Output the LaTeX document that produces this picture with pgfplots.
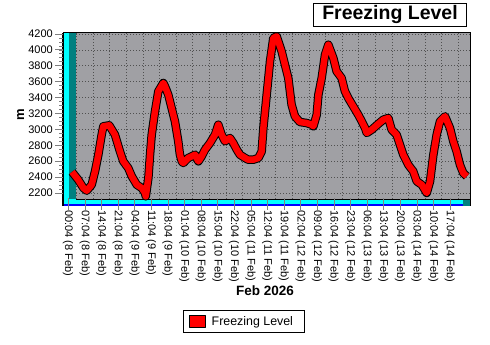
\documentclass[border=0pt]{standalone}
\usepackage{fontspec}
\setmainfont{Liberation Sans}
\usepackage{pgfplots}
\usepackage{pgfplotstable}
\pgfplotsset{compat=1.18}
\definecolor{wallgray}{RGB}{160,160,164}
\definecolor{gridgray}{RGB}{80,80,80}
\definecolor{tealw}{RGB}{0,128,128}
\definecolor{cyanw}{RGB}{0,255,255}
\definecolor{bluew}{RGB}{0,0,255}
\definecolor{tickgray}{RGB}{128,128,128}

\pgfplotstableread{
h v
1.7 2465
4.3 2367
6.5 2263
7.9 2229
10.0 2304
11.4 2473
12.8 2682
14.2 2933
14.9 3039
17.4 3051
19.8 2933
21.9 2724
23.3 2599
25.4 2514
26.9 2410
29.0 2304
31.1 2263
32.5 2200
32.8 2158
33.9 2388
34.6 2682
35.3 2933
36.7 3228
38.1 3479
40.2 3584
40.9 3542
42.3 3436
43.7 3269
45.1 3102
46.5 2850
47.2 2682
48.0 2598
48.6 2577
50.7 2640
53.6 2682
55.0 2598
56.4 2662
57.8 2745
59.9 2829
62.0 2933
63.4 3059
64.8 2933
66.2 2850
68.3 2892
69.7 2829
71.2 2745
72.5 2682
74.7 2640
76.0 2619
78.2 2619
80.3 2640
81.7 2724
82.4 3017
83.8 3436
85.2 3856
86.6 4150
88.0 4171
90.1 3982
91.5 3814
92.9 3646
93.6 3479
94.3 3312
95.7 3165
97.8 3093
100.7 3080
102.8 3059
103.5 3039
104.9 3185
105.6 3436
107.0 3646
108.4 3940
109.8 4065
111.9 3898
113.3 3731
115.4 3646
116.8 3479
118.2 3395
120.3 3290
122.4 3185
123.9 3102
125.3 3017
126.0 2955
128.1 2996
130.9 3070
133.0 3122
135.1 3143
136.5 2996
138.6 2933
140.0 2807
141.4 2682
143.5 2556
145.6 2473
147.1 2347
149.2 2304
151.3 2200
152.7 2347
154.1 2682
155.5 2933
156.9 3102
159.0 3165
161.1 3017
162.5 2850
163.9 2724
165.3 2556
166.7 2451
168.2 2410
}\fldata

\begin{document}
\begin{tikzpicture}
\useasboundingbox (0,0) rectangle (490bp,-345bp);
% back wall
\fill[wallgray] (76bp,-33bp) rectangle (470bp,-199bp);
\foreach \k in {0,...,10} {
  \pgfmathsetmacro\yy{-(34+15.9*\k)}
  \draw[gridgray, line width=0.8bp, dash pattern=on 1bp off 2bp] (76bp,\yy bp) -- (470bp,\yy bp);
}
\foreach \k in {0,...,23} {
  \pgfmathsetmacro\xx{76.6+16.597*\k}
  \draw[gridgray, line width=0.8bp, dash pattern=on 1bp off 2bp] (\xx bp,-33bp) -- (\xx bp,-199bp);
}
% left wall
\fill[cyanw] (64bp,-33bp) rectangle (69bp,-205bp);
\fill[tealw] (69bp,-33bp) rectangle (76bp,-199bp);
% floor
\fill[cyanw] (64bp,-199bp) rectangle (463bp,-204bp);
\fill[bluew] (64bp,-204bp) rectangle (463bp,-205.5bp);
\fill[tealw] (463bp,-199bp) rectangle (470bp,-205.5bp);
\draw[black, line width=0.6bp] (76bp,-199bp) -- (470bp,-199bp);
% outline
\draw[black, line width=1bp] (63bp,-32.5bp) -- (470bp,-32.5bp) -- (470bp,-205.5bp);
\draw[black, line width=1.4bp] (63bp,-32.5bp) -- (63bp,-206bp);
% x ticks
\foreach \k in {0,...,23} {
  \pgfmathsetmacro\xx{68.5+16.597*\k}
  \draw[tickgray, line width=1bp] (\xx bp,-198bp) -- (\xx bp,-210bp);
}
% y ticks
\foreach \k in {0,...,10} {
  \pgfmathsetmacro\yy{-(34+15.9*\k)}
  \draw[tickgray, line width=1bp] (55bp,\yy bp) -- (62.5bp,\yy bp);
}
\foreach \k in {0,...,39} {
  \pgfmathsetmacro\yy{-(34+3.975*\k)}
  \draw[tickgray, line width=0.8bp] (59bp,\yy bp) -- (62.5bp,\yy bp);
}

\begin{axis}[
  at={(63bp,-205bp)}, anchor=south west,
  width=407bp, height=172bp, scale only axis,
  xmin=-2.109, xmax=169.55, ymin=2048.8, ymax=4212.6,
  axis line style={draw=none},
  tick style={draw=none},
  tick align=outside, major tick length=5bp,
  xtick={0,7,...,161},
  xticklabels={00:04 (8 Feb),07:04 (8 Feb),14:04 (8 Feb),21:04 (8 Feb),04:04 (9 Feb),11:04 (9 Feb),18:04 (9 Feb),01:04 (10 Feb),08:04 (10 Feb),15:04 (10 Feb),22:04 (10 Feb),05:04 (11 Feb),12:04 (11 Feb),19:04 (11 Feb),02:04 (12 Feb),09:04 (12 Feb),16:04 (12 Feb),23:04 (12 Feb),06:04 (13 Feb),13:04 (13 Feb),20:04 (13 Feb),03:04 (14 Feb),10:04 (14 Feb),17:04 (14 Feb)},
  xticklabel style={rotate=-90, anchor=west, inner sep=0pt, font=\fontsize{11bp}{13bp}\selectfont},
  ytick={2200,2400,...,4200},
  yticklabel style={inner sep=0pt, xshift=-5bp, font=\fontsize{11bp}{13bp}\selectfont},
  /pgf/number format/assume math mode=true,
  /pgf/number format/1000 sep={},
  legend image code/.code={
    \path[draw=none, fill=none] (-6bp,-10.8bp) rectangle (22.4bp,10.8bp);
    \draw[fill=red, draw=black, line width=0.8bp] (0bp,-5.8bp) rectangle (15.7bp,5.8bp);},
  legend style={at={(0.4442,-0.6773)}, anchor=center, draw=black, line width=0.8bp,
    font=\fontsize{12.4bp}{14bp}\selectfont, inner sep=0pt, nodes={inner sep=0pt}},
]
\addplot[black, line width=8.5bp, line join=round, forget plot] table[x=h, y=v] {\fldata};
\addplot[red, line width=6.5bp, line join=round] table[x=h, y=v] {\fldata};
\addlegendentry{\makebox[92.6bp][l]{Freezing Level}}
\end{axis}

\node[draw=black, line width=1bp, minimum width=153.4bp, minimum height=22.7bp, inner sep=0pt,
  font=\bfseries\fontsize{19.5bp}{20bp}\selectfont] at (390bp,-14.7bp) {Freezing Level};
\node[rotate=90, font=\bfseries\fontsize{13bp}{14bp}\selectfont] at (20.5bp,-114.5bp) {m};
\node[font=\bfseries\fontsize{13.5bp}{15bp}\selectfont] at (265bp,-291bp) {Feb 2026};
\end{tikzpicture}
\end{document}
